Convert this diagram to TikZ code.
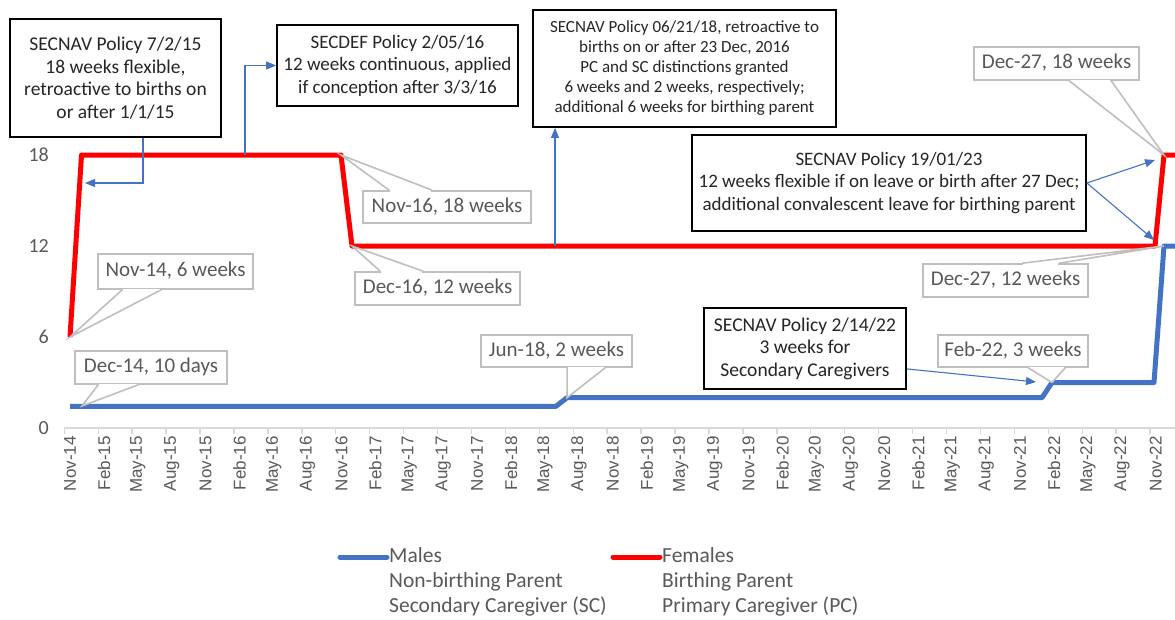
\documentclass[tikz,border=0pt]{standalone}
\usepackage{fontspec}
\setmainfont{Carlito}
\newfontfamily\axisfont{Liberation Sans}
\usetikzlibrary{arrows.meta,calc}
\definecolor{xred}{HTML}{FF0000}
\definecolor{xblue}{HTML}{4472C4}
\definecolor{xgray}{HTML}{595959}
\definecolor{xlight}{HTML}{BFBFBF}
\definecolor{xaxis}{HTML}{D9D9D9}
\definecolor{xtext}{HTML}{262626}
\newcommand\calloutwedge[4]{%
  \fill[white] ($#1+(#2,0)$) -- #4 -- ($#1+(#3,0)$) -- cycle;
  \draw[white,line width=2.6pt] ($#1+(#2+1,0)$) -- ($#1+(#3-1,0)$);
  \draw[wedgeline] ($#1+(#2,0)$) -- #4 -- ($#1+(#3,0)$);}
\begin{document}
\begin{tikzpicture}[x=1pt,y=-1pt,
  policy/.style={draw=black, line width=1.8pt, fill=white, text=xtext, align=center,
    font=\fontsize{19.5}{22.5}\selectfont, inner sep=0pt},
  callout/.style={draw=xlight, line width=1.6pt, fill=white, text=xgray,
    font=\fontsize{21}{24}\selectfont, inner sep=0pt, text height=14pt, text depth=4pt},
  wedgeline/.style={draw=xlight, line width=1.6pt, line join=miter},
  arr/.style={draw=xblue, line width=1.1pt, -{Triangle[length=10pt,width=8pt]}},
  redseries/.style={draw=xred, line width=5pt, line join=round},
  blueseries/.style={draw=xblue, line width=5pt, line join=round},
  ylab/.style={anchor=east, text=xgray, font=\fontsize{20}{24}\selectfont, inner sep=0pt},
  axlab/.style={rotate=90, anchor=east, text=xgray, font=\axisfont\fontsize{17}{17}\selectfont, inner sep=0pt},
  leg/.style={anchor=west, text=xgray, font=\fontsize{21.5}{25}\selectfont, inner sep=0pt, text height=14pt, text depth=4pt}
]
\useasboundingbox[fill=white] (0,0) rectangle (1175,619);

% y axis labels
\node[ylab] (y18) at (49,155) {18};
\node[ylab] (y12) at (49,246) {12};
\node[ylab] (y6)  at (49,337) {6};
\node[ylab] (y0)  at (49,428) {0};

% x axis
\draw[xaxis, line width=1.4pt] (64.3,428) -- (1175,428);
\foreach \i in {0,...,32} \draw[xaxis, line width=1.4pt] ({64.3+33.93*\i},428) -- ++(0,6);
\foreach \lab [count=\i from 0] in {Nov-14,Feb-15,May-15,Aug-15,Nov-15,Feb-16,May-16,Aug-16,Nov-16,Feb-17,May-17,Aug-17,Nov-17,Feb-18,May-18,Aug-18,Nov-18,Feb-19,May-19,Aug-19,Nov-19,Feb-20,May-20,Aug-20,Nov-20,Feb-21,May-21,Aug-21,Nov-21,Feb-22,May-22,Aug-22,Nov-22}
  \node[axlab] (t\i) at ({70+33.93*\i},436) {\lab};

% data series
\coordinate (r0) at (70,337);
\coordinate (r1) at (81.5,155);
\coordinate (r2) at (341,155);
\coordinate (r3) at (352,246);
\coordinate (r4) at (1155,246);
\coordinate (r5) at (1164,155);
\coordinate (r6) at (1180,155);
\coordinate (b0) at (70,406.3);
\coordinate (b1) at (556,406.3);
\coordinate (b2) at (567,397.7);
\coordinate (b3) at (1042,397.7);
\coordinate (b4) at (1052,382.5);
\coordinate (b5) at (1154,382.5);
\coordinate (b6) at (1164,246);
\coordinate (b7) at (1180,246);
\draw[blueseries] (b0) -- (b1) -- (b2) -- (b3) -- (b4) -- (b5) -- (b6) -- (b7);
\draw[redseries] (r0) -- (r1) -- (r2) -- (r3) -- (r4) -- (r5) -- (r6);

% policy boxes
\node[policy, minimum width=211, minimum height=118] (box1) at (115.5,78)
  {SECNAV Policy 7/2/15\\18 weeks flexible,\\retroactive to births on\\or after 1/1/15};
\node[policy, minimum width=241, minimum height=81, font=\fontsize{19}{22.5}\selectfont] (box2) at (397.5,65.5)
  {SECDEF Policy 2/05/16\\12 weeks continuous, applied\\if conception after 3/3/16};
\node[policy, minimum width=303, minimum height=117, font=\fontsize{17}{20}\selectfont] (box3) at (684.5,68.5)
  {SECNAV Policy 06/21/18, retroactive to\\births on or after 23 Dec, 2016\\PC and SC distinctions granted\\6 weeks and 2 weeks, respectively;\\additional 6 weeks for birthing parent};
\node[policy, minimum width=394, minimum height=96, font=\fontsize{19}{22.5}\selectfont] (box4) at (889,183)
  {SECNAV Policy 19/01/23\\12 weeks flexible if on leave or birth after 27 Dec;\\additional convalescent leave for birthing parent};
\node[policy, minimum width=202, minimum height=81] (box5) at (805,348.5)
  {SECNAV Policy 2/14/22\\3 weeks for\\Secondary Caregivers};

% blue arrows
\coordinate (a1k) at (143,183);
\coordinate (a1e) at (85,183);
\draw[arr] (box1.south -| a1k) -- (a1k) -- (a1e);
\coordinate (a2s) at (245,155);
\draw[arr] (a2s) |- (box2.west);
\coordinate (a3s) at (555,246);
\draw[arr] (a3s) -- (a3s |- box3.south);
\coordinate (a4u) at (1155,160);
\coordinate (a4d) at (1154,240);
\draw[arr] (box4.east) -- (a4u);
\draw[arr] (box4.east) -- (a4d);
\coordinate (a5s) at ($(box5.south east)+(0,-21)$);
\coordinate (a5e) at (1036,382);
\draw[arr] (a5s) -- (a5e);

% data callouts
\node[callout, minimum width=155, minimum height=35] (c1) at (175.5,271.5) {Nov-14, 6 weeks};
\calloutwedge{(c1.south west)}{25}{64}{(r0)}
\node[callout, minimum width=152, minimum height=33] (c2) at (151,367.5) {Dec-14, 10 days};
\coordinate (p2) at (82,406);
\calloutwedge{(c2.south west)}{24}{64}{(p2)}
\node[callout, minimum width=168, minimum height=32] (c3) at (447,207) {Nov-16, 18 weeks};
\calloutwedge{(c3.north west)}{27}{70}{(r2)}
\node[callout, minimum width=165, minimum height=33] (c4) at (437.5,288.5) {Dec-16, 12 weeks};
\calloutwedge{(c4.north west)}{26}{69}{(r3)}
\node[callout, minimum width=151, minimum height=32] (c5) at (556.5,351) {Jun-18, 2 weeks};
\calloutwedge{(c5.south west)}{87}{125}{(b2)}
\node[callout, minimum width=150, minimum height=32] (c6) at (1013,351) {Feb-22, 3 weeks};
\calloutwedge{(c6.south west)}{91}{128}{(b4)}
\node[callout, minimum width=165, minimum height=33] (c7) at (1005.5,280.5) {Dec-27, 12 weeks};
\calloutwedge{(c7.north west)}{100}{137}{(b6)}
\node[callout, minimum width=165, minimum height=33] (c8) at (1056.5,63.5) {Dec-27, 18 weeks};
\calloutwedge{(c8.south west)}{96}{138}{(r5)}

% legend
\coordinate (lb1) at (340,557);
\coordinate (lb2) at (387,557);
\draw[blueseries, line cap=round] (lb1) -- (lb2);
\node[leg] (lm1) at (389,557) {Males};
\node[leg] (lm2) at (389,582) {Non-birthing Parent};
\node[leg] (lm3) at (389,607) {Secondary Caregiver (SC)};
\coordinate (lr1) at (613,557);
\coordinate (lr2) at (660,557);
\draw[redseries, line cap=round] (lr1) -- (lr2);
\node[leg] (lf1) at (662,557) {Females};
\node[leg] (lf2) at (662,582) {Birthing Parent};
\node[leg] (lf3) at (662,607) {Primary Caregiver (PC)};
\end{tikzpicture}
\end{document}
